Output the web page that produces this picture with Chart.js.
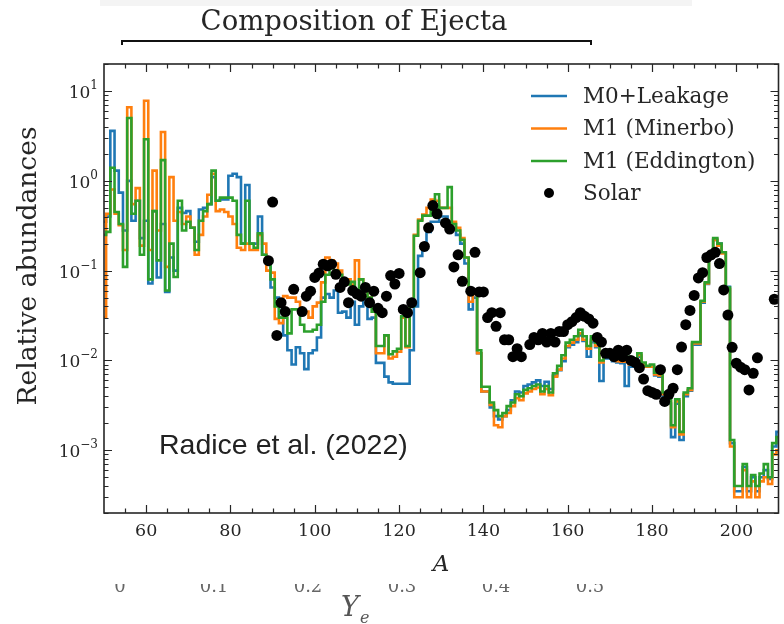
<!DOCTYPE html>
<html>
<head>
<meta charset="utf-8">
<script src="https://cdn.jsdelivr.net/npm/chart.js@4.4.1/dist/chart.umd.min.js"></script>
<style>
  html, body { margin: 0; padding: 0; background: #fff; }
  canvas { display: block; }
</style>
</head>
<body>
<canvas id="ejectaChart" width="784" height="624"></canvas>
<script>
// mass numbers A = 50 ... 210
const massNumbers = [
  50, 51, 52, 53, 54, 55, 56, 57, 58, 59,
  60, 61, 62, 63, 64, 65, 66, 67, 68, 69,
  70, 71, 72, 73, 74, 75, 76, 77, 78, 79,
  80, 81, 82, 83, 84, 85, 86, 87, 88, 89,
  90, 91, 92, 93, 94, 95, 96, 97, 98, 99,
  100, 101, 102, 103, 104, 105, 106, 107, 108, 109,
  110, 111, 112, 113, 114, 115, 116, 117, 118, 119,
  120, 121, 122, 123, 124, 125, 126, 127, 128, 129,
  130, 131, 132, 133, 134, 135, 136, 137, 138, 139,
  140, 141, 142, 143, 144, 145, 146, 147, 148, 149,
  150, 151, 152, 153, 154, 155, 156, 157, 158, 159,
  160, 161, 162, 163, 164, 165, 166, 167, 168, 169,
  170, 171, 172, 173, 174, 175, 176, 177, 178, 179,
  180, 181, 182, 183, 184, 185, 186, 187, 188, 189,
  190, 191, 192, 193, 194, 195, 196, 197, 198, 199,
  200, 201, 202, 203, 204, 205, 206, 207, 208, 209, 210
];

const leakage = [
  0.35, 0.4, 3.6, 1.3, 0.74, 0.28, 1.0, 0.36, 0.6, 0.23,
  0.36, 0.072, 0.46, 0.084, 0.33, 0.058, 0.14, 0.1, 0.5, 0.44,
  0.46, 0.3, 0.21, 0.48, 0.5, 0.55, 1.1, 0.6, 0.62, 0.62,
  1.14, 1.2, 1.1, 0.2, 0.9, 0.2, 0.2, 0.4, 0.15, 0.12,
  0.065, 0.05, 0.03, 0.019, 0.013, 0.009, 0.014, 0.012, 0.008, 0.012,
  0.013, 0.018, 0.05, 0.055, 0.05, 0.06, 0.034, 0.035, 0.03, 0.045,
  0.025, 0.04, 0.048, 0.029, 0.03, 0.0094, 0.0094, 0.0066, 0.0057, 0.0055,
  0.0055, 0.0055, 0.0055, 0.013, 0.04, 0.146, 0.17, 0.27, 0.35, 0.35,
  0.4, 0.4, 0.35, 0.3, 0.25, 0.2, 0.12, 0.037, 0.05, 0.012,
  0.0045, 0.0045, 0.003, 0.0024, 0.0022, 0.0024, 0.0028, 0.0036, 0.0045, 0.0044,
  0.0052, 0.0054, 0.0057, 0.006, 0.0052, 0.0058, 0.0048, 0.0068, 0.0078, 0.0098,
  0.014, 0.015, 0.016, 0.019, 0.0165, 0.011, 0.016, 0.014, 0.0059, 0.0105,
  0.0105, 0.0098, 0.0095, 0.0093, 0.0052, 0.0085, 0.0085, 0.011, 0.009, 0.0085,
  0.0085, 0.0068, 0.0066, 0.004, 0.0033, 0.0014, 0.0033, 0.0013, 0.004, 0.0046,
  0.015, 0.015, 0.044, 0.071, 0.145, 0.22, 0.2, 0.16, 0.066, 0.0012,
  0.00035, 0.00035, 0.00065, 0.00035, 0.0005, 0.00035, 0.0005, 0.0006, 0.00048, 0.0011, 0.0016
];

const minerbo = [
  0.03, 0.43, 0.8, 0.43, 0.32, 0.17, 6.6, 0.55, 0.83, 0.19,
  7.8, 0.17, 1.3, 0.28, 3.5, 0.11, 1.1, 0.36, 0.45, 0.33,
  0.4, 0.3, 0.15, 0.25, 0.4, 0.7, 1.2, 0.46, 0.48, 0.45,
  0.4, 0.33, 0.18, 0.17, 0.2, 0.17, 0.17, 0.25, 0.2, 0.1,
  0.095, 0.029, 0.026, 0.052, 0.05, 0.05, 0.045, 0.033, 0.035, 0.03,
  0.04, 0.044, 0.074, 0.14, 0.13, 0.12, 0.1, 0.08, 0.08, 0.07,
  0.13, 0.08, 0.07, 0.05, 0.04, 0.012, 0.012, 0.019, 0.0105, 0.011,
  0.0125, 0.03, 0.014, 0.045, 0.25, 0.37, 0.42, 0.5, 0.62, 0.6,
  0.5, 0.5, 0.5, 0.35, 0.3, 0.23, 0.14, 0.045, 0.055, 0.012,
  0.0045, 0.0045, 0.0032, 0.0019, 0.0018, 0.0024, 0.0026, 0.0031, 0.0038, 0.0036,
  0.0043, 0.0045, 0.0048, 0.005, 0.0042, 0.0048, 0.0041, 0.0066, 0.0079, 0.0105,
  0.0145, 0.0158, 0.017, 0.02, 0.017, 0.0135, 0.017, 0.0145, 0.0095, 0.0115,
  0.0112, 0.0102, 0.0098, 0.0097, 0.0105, 0.009, 0.0092, 0.0115, 0.009, 0.0085,
  0.0085, 0.007, 0.0068, 0.0042, 0.0035, 0.0018, 0.0035, 0.0015, 0.0042, 0.0047,
  0.0155, 0.0155, 0.045, 0.072, 0.145, 0.22, 0.19, 0.155, 0.062, 0.0011,
  0.0003, 0.0003, 0.0006, 0.0003, 0.00045, 0.0003, 0.00045, 0.0005, 0.00042, 0.0009, 0.001
];

const eddington = [
  0.25, 0.27, 1.4, 0.45, 0.33, 0.11, 5.0, 0.43, 0.6, 0.15,
  2.9, 0.08, 0.46, 0.13, 1.7, 0.06, 0.2, 0.085, 0.6, 0.28,
  0.35, 0.3, 0.17, 0.36, 0.46, 0.55, 1.3, 0.6, 0.65, 0.65,
  0.65, 0.6, 0.25, 0.2, 0.6, 0.2, 0.18, 0.26, 0.15, 0.12,
  0.08, 0.04, 0.03, 0.03, 0.02, 0.037, 0.037, 0.025, 0.021, 0.021,
  0.022, 0.025, 0.045, 0.09, 0.11, 0.1, 0.09, 0.07, 0.07, 0.075,
  0.06, 0.08, 0.06, 0.05, 0.035, 0.0145, 0.0145, 0.019, 0.0117, 0.0126,
  0.0135, 0.031, 0.0145, 0.04, 0.245, 0.36, 0.41, 0.41, 0.53, 0.71,
  0.5, 0.5, 0.85, 0.33, 0.28, 0.22, 0.14, 0.057, 0.057, 0.013,
  0.0051, 0.0051, 0.0034, 0.0028, 0.0024, 0.0026, 0.0031, 0.0034, 0.0042, 0.004,
  0.0047, 0.0049, 0.0052, 0.0054, 0.0045, 0.0052, 0.0044, 0.0072, 0.0087, 0.0114,
  0.0158, 0.017, 0.0186, 0.022, 0.0186, 0.0145, 0.0186, 0.0158, 0.01, 0.0123,
  0.012, 0.011, 0.0105, 0.0104, 0.011, 0.0095, 0.009, 0.012, 0.0095, 0.0087,
  0.009, 0.0073, 0.0073, 0.0044, 0.0037, 0.0019, 0.0037, 0.0016, 0.0044, 0.0049,
  0.016, 0.016, 0.046, 0.074, 0.15, 0.23, 0.2, 0.16, 0.065, 0.0013,
  0.0004, 0.0004, 0.0007, 0.0004, 0.00053, 0.0004, 0.00055, 0.0007, 0.0005, 0.0012, 0.0014
];

// solar r-process abundances (not every A is present)
const solarMass = [
  89, 90, 91, 92, 93, 95, 97, 98, 99, 100,
  101, 102, 103, 104, 105, 106, 107, 108, 109, 110,
  111, 112, 113, 114, 115, 116, 117, 118, 119, 120,
  121, 122, 123, 125, 126, 127, 128, 129, 131, 132,
  133, 134, 135, 137, 138, 139, 140, 141, 142, 143,
  144, 145, 146, 147, 148, 149, 151, 152, 153, 154,
  155, 156, 157, 158, 159, 160, 161, 162, 163, 164,
  165, 166, 167, 168, 169, 170, 171, 172, 173, 174,
  175, 176, 177, 178, 179, 180, 181, 182, 183, 184,
  185, 186, 187, 188, 189, 190, 191, 192, 193, 194,
  195, 196, 197, 198, 199, 200, 201, 202, 203, 204,
  205, 209
];
const solarAbund = [
  0.129, 0.58, 0.019, 0.044, 0.035, 0.062, 0.035, 0.052, 0.059, 0.084,
  0.094, 0.118, 0.113, 0.118, 0.091, 0.065, 0.075, 0.044, 0.06, 0.055,
  0.052, 0.065, 0.044, 0.059, 0.038, 0.034, 0.052, 0.088, 0.071, 0.093,
  0.037, 0.034, 0.044, 0.095, 0.186, 0.3, 0.53, 0.43, 0.34, 0.29,
  0.11, 0.15, 0.076, 0.059, 0.16, 0.058, 0.058, 0.03, 0.034, 0.024,
  0.034, 0.017, 0.017, 0.011, 0.0135, 0.011, 0.015, 0.018, 0.017, 0.02,
  0.016, 0.02, 0.016, 0.021, 0.021, 0.025, 0.027, 0.03, 0.034, 0.031,
  0.029, 0.026, 0.018, 0.016, 0.012, 0.012, 0.011, 0.013, 0.011, 0.013,
  0.010, 0.0095, 0.0083, 0.0062, 0.0046, 0.0044, 0.0042, 0.0079, 0.0035, 0.0042,
  0.0049, 0.0079, 0.0141, 0.025, 0.036, 0.053, 0.083, 0.095, 0.14, 0.15,
  0.16, 0.12, 0.061, 0.032, 0.014, 0.0093, 0.0084, 0.0079, 0.0047, 0.0072,
  0.0107, 0.048
];

const xTickValues = [60, 80, 100, 120, 140, 160, 180, 200];
const yDecades = [1, 0, -1, -2, -3];

const serif = '"DejaVu Serif", "Liberation Serif", serif';
const ink = "#262626";

const toPoints = (xs, ys) => xs.map((x, i) => ({ x: x, y: ys[i] }));

function stepSeries(label, values, color, order) {
  return {
    label: label,
    data: toPoints(massNumbers, values),
    borderColor: color,
    backgroundColor: color,
    borderWidth: 2.6,
    stepped: "middle",
    pointRadius: 0,
    fill: false,
    order: order,
  };
}

// axes, ticks, legend and the text around the plot
const decorations = {
  id: "decorations",
  beforeDraw(chart) {
    const c = chart.ctx;
    c.save();
    c.fillStyle = "#fff";
    c.fillRect(0, 0, chart.width, chart.height);
    c.fillStyle = "#f4f4f4";
    c.fillRect(100, 0, 592, 6);
    c.restore();
  },
  afterDraw(chart) {
    const c = chart.ctx;
    const area = chart.chartArea;
    const xs = chart.scales.x;
    const ys = chart.scales.y;
    c.save();
    c.strokeStyle = ink;
    c.fillStyle = ink;

    // frame
    c.lineWidth = 1.6;
    c.strokeRect(area.left, area.top, area.right - area.left, area.bottom - area.top);

    // x ticks every 5, longer every 20
    c.lineWidth = 1.2;
    for (let v = 55; v < 210; v += 5) {
      const px = Math.round(xs.getPixelForValue(v)) + 0.5;
      const len = v % 20 === 0 ? 8 : 4.5;
      c.beginPath();
      c.moveTo(px, area.bottom);
      c.lineTo(px, area.bottom - len);
      c.moveTo(px, area.top);
      c.lineTo(px, area.top + len);
      c.stroke();
    }

    // y ticks, decades and minor
    for (let d = -4; d <= 1; d++) {
      for (let k = 1; k <= 9; k++) {
        const val = k * Math.pow(10, d);
        if (val < ys.min || val > ys.max) continue;
        const py = Math.round(ys.getPixelForValue(val)) + 0.5;
        const len = k === 1 ? 8 : 4.5;
        c.beginPath();
        c.moveTo(area.left, py);
        c.lineTo(area.left + len, py);
        c.moveTo(area.right, py);
        c.lineTo(area.right - len, py);
        c.stroke();
      }
    }

    // x tick labels
    c.font = "17.5px " + serif;
    c.textAlign = "center";
    c.textBaseline = "top";
    xTickValues.forEach((v) => {
      c.fillText(String(v), xs.getPixelForValue(v), area.bottom + 10);
    });

    // y tick labels 10^n
    yDecades.forEach((e) => {
      const py = ys.getPixelForValue(Math.pow(10, e));
      const expText = e < 0 ? "\u2212" + Math.abs(e) : String(e);
      c.font = "12px " + serif;
      const expW = c.measureText(expText).width;
      c.textAlign = "left";
      c.textBaseline = "alphabetic";
      const right = area.left - 6;
      c.fillText(expText, right - expW, py - 2);
      c.font = "17px " + serif;
      c.textAlign = "right";
      c.fillText("10", right - expW, py + 7);
    });

    // axis titles
    c.font = "italic 23px " + serif;
    c.textAlign = "center";
    c.textBaseline = "alphabetic";
    c.fillText("A", 441, 571);

    c.save();
    c.translate(36, 266);
    c.rotate(-Math.PI / 2);
    c.font = "26.5px " + serif;
    c.fillText("Relative abundances", 0, 0);
    c.restore();

    // legend
    const legendItems = [
      ["M0+Leakage", "#1f77b4"],
      ["M1 (Minerbo)", "#ff7f0e"],
      ["M1 (Eddington)", "#2ca02c"],
    ];
    c.font = "21.5px " + serif;
    c.textAlign = "left";
    c.textBaseline = "middle";
    legendItems.forEach((item, i) => {
      const ly = 96 + i * 32.5;
      c.strokeStyle = item[1];
      c.lineWidth = 2.6;
      c.beginPath();
      c.moveTo(531, ly);
      c.lineTo(567, ly);
      c.stroke();
      c.fillStyle = ink;
      c.fillText(item[0], 583, ly + 1);
    });
    c.fillStyle = "#000";
    c.beginPath();
    c.arc(549, 193, 5, 0, Math.PI * 2);
    c.fill();
    c.fillStyle = ink;
    c.fillText("Solar", 583, 194);

    // citation
    c.font = "28.5px \"Liberation Sans\", Arial, sans-serif";
    c.fillStyle = "#222";
    c.textAlign = "left";
    c.fillText("Radice et al. (2022)", 159, 446);

    // title and the axis line under it
    c.fillStyle = ink;
    c.font = "27.5px " + serif;
    c.textAlign = "center";
    c.textBaseline = "alphabetic";
    c.fillText("Composition of Ejecta", 354, 30);
    c.strokeStyle = "#111";
    c.lineWidth = 2;
    c.beginPath();
    c.moveTo(122, 45);
    c.lineTo(122, 41);
    c.lineTo(591, 41);
    c.lineTo(591, 45);
    c.stroke();

    // lower panel labels, only their bottom edge shows
    c.save();
    c.beginPath();
    c.rect(0, 584, chart.width, 20);
    c.clip();
    c.fillStyle = "#666";
    c.font = "18px " + serif;
    c.textBaseline = "alphabetic";
    const yeTicks = ["0", "0.1", "0.2", "0.3", "0.4", "0.5"];
    yeTicks.forEach((t, i) => {
      c.fillText(t, 120 + i * 94, 592);
    });
    c.restore();
    c.fillStyle = "#555";
    c.font = "italic 27px " + serif;
    c.textAlign = "left";
    c.fillText("Y", 341, 616);
    c.font = "italic 16px " + serif;
    c.fillText("e", 360, 623);

    c.restore();
  },
};

new Chart(document.getElementById("ejectaChart"), {
  type: "line",
  data: {
    datasets: [
      stepSeries("M0+Leakage", leakage, "#1f77b4", 4),
      stepSeries("M1 (Minerbo)", minerbo, "#ff7f0e", 3),
      stepSeries("M1 (Eddington)", eddington, "#2ca02c", 2),
      {
        label: "Solar",
        data: toPoints(solarMass, solarAbund),
        showLine: false,
        pointRadius: 5.5,
        pointBorderWidth: 0,
        backgroundColor: "#000",
        borderColor: "#000",
        order: 1,
      },
    ],
  },
  options: {
    responsive: false,
    animation: false,
    layout: { padding: { left: 104, right: 4, top: 64, bottom: 111 } },
    plugins: {
      legend: { display: false },
      tooltip: { enabled: false },
    },
    scales: {
      x: { type: "linear", min: 50, max: 210, display: false },
      y: { type: "logarithmic", min: 2e-4, max: 20, display: false },
    },
  },
  plugins: [decorations],
});
</script>
</body>
</html>
